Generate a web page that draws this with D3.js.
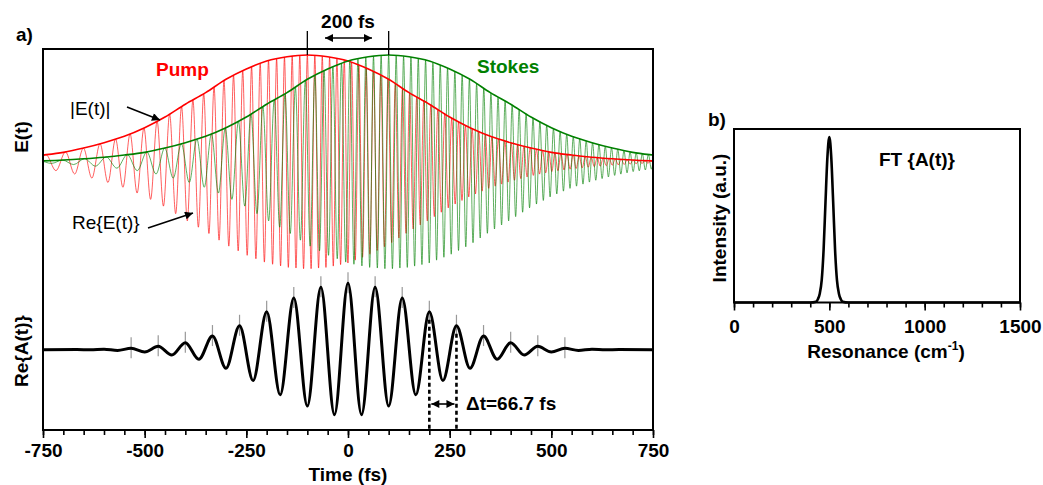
<!DOCTYPE html>
<html>
<head>
<meta charset="utf-8">
<script src="https://cdn.jsdelivr.net/npm/d3@7"></script>
<style>
body { margin: 0; background: #fff; }
text { font-family: "Liberation Sans", Arial, sans-serif; }
</style>
</head>
<body>
<div id="chart"></div>
<script>
// ---- data ----
// pulse envelope |E(t)|, one side, offsets from the pulse centre (fs); mirrored below
var envOffsetsHalf = [0, 50, 100, 150, 200, 250, 300, 350, 400, 450, 500, 550, 600, 650, 700, 750, 800, 850];
var envValuesHalf  = [1.0, 0.984, 0.944, 0.869, 0.773, 0.648, 0.54, 0.42, 0.32, 0.24, 0.18, 0.13, 0.09, 0.065, 0.045, 0.03, 0.018, 0.01];

var pulseNames   = ["Pump", "Stokes"];
var pulseCenters = [-100, 100];

// carrier period (fs) of the chirped pulses, offsets from the pulse centre
var periodOffsets = [-850, -650, -550, -450, -350, -250, -150, -50, 50, 150, 250, 350, 450, 600, 850];
var periodFs      = [56, 52, 43, 36, 31, 26, 22, 19, 18, 18, 17.5, 17, 16, 15, 14.5];

// beat signal Re{A(t)}: extrema (fs) and values
var beatTimes = [-750, -666.7, -633.3, -600, -566.7, -533.3, -500, -466.7, -433.3, -400, -366.7, -333.3, -300,
  -266.7, -233.3, -200, -166.7, -133.3, -100, -66.7, -33.3, 0, 33.3, 66.7, 100, 133.3, 166.7, 200, 233.3, 266.7,
  300, 333.3, 366.7, 400, 433.3, 466.7, 500, 533.3, 566.7, 600, 633.3, 666.7, 750];
var beatValues = [0, 0.002, -0.003, 0.006, -0.012, 0.021, -0.035, 0.05, -0.08, 0.105, -0.145, 0.205, -0.28,
  0.36, -0.465, 0.57, -0.68, 0.78, -0.85, 0.94, -0.98, 1.0, -0.98, 0.94, -0.85, 0.78, -0.68, 0.57, -0.465, 0.36,
  -0.28, 0.205, -0.145, 0.105, -0.08, 0.05, -0.035, 0.021, -0.012, 0.006, -0.003, 0.002, 0];

var deltaT = [200, 266.7];

// FT{A(t)} spectrum
var specWavenumbers = [0, 400, 430, 440, 450, 460, 470, 480, 490, 500, 510, 520, 530, 540, 550, 560, 570, 600, 1500];
var specValues      = [0, 0, 0.005, 0.02, 0.055, 0.135, 0.32, 0.61, 0.88, 1.0, 0.88, 0.61, 0.32, 0.135, 0.055, 0.02, 0.005, 0, 0];

var timeMajor = [-750, -500, -250, 0, 250, 500, 750];
var resMajor  = [0, 500, 1000, 1500];

// ---- layout ----
var W = 1043, H = 485;
var colors = {Pump: "#ff0000", Stokes: "#008000"};

var svg = d3.select("#chart").append("svg").attr("width", W).attr("height", H);

var defs = svg.append("defs");
defs.append("marker").attr("id", "arr")
  .attr("viewBox", "0 0 10 10").attr("refX", 10).attr("refY", 5)
  .attr("markerWidth", 9).attr("markerHeight", 8).attr("markerUnits", "userSpaceOnUse")
  .attr("orient", "auto-start-reverse")
  .append("path").attr("d", "M0,0 L10,5 L0,10 z").attr("fill", "#000");
defs.append("clipPath").attr("id", "clipA")
  .append("rect").attr("x", 43).attr("y", 49).attr("width", 610).attr("height", 381);

// left panel scales
var x = d3.scaleLinear().domain([-750, 750]).range([43, 653]);
var yE = d3.scaleLinear().domain([-1, 1]).range([269, 55]);
var yA = d3.scaleLinear().domain([-1, 1]).range([416, 283.3]);

// full envelope (mirror of the half profile)
var envOffsets = envOffsetsHalf.slice(1).map(function(d){ return -d; }).reverse().concat(envOffsetsHalf);
var envValues = envValuesHalf.slice(1).reverse().concat(envValuesHalf);
var envAt = d3.scaleLinear().domain(envOffsets).range(envValues).clamp(true);
var periodAt = d3.scaleLinear().domain(periodOffsets).range(periodFs).clamp(true);

// extrema of the carrier: step half a period each time
function carrierExtrema(c) {
  var pts = [{t: c, v: envAt(0)}];
  var t = c, s = 1;
  while (t < 780) { t += periodAt(t - c) / 2; s = -s; pts.push({t: t, v: s * envAt(t - c)}); }
  t = c; s = 1;
  while (t > -780) { t -= periodAt(t - c) / 2; s = -s; pts.unshift({t: t, v: s * envAt(t - c)}); }
  return pts;
}

var lineE = d3.line().x(function(d){ return x(d.t); }).y(function(d){ return yE(d.v); }).curve(d3.curveMonotoneX);
var lineA = d3.line().x(function(d){ return x(d.t); }).y(function(d){ return yA(d.v); }).curve(d3.curveMonotoneX);

var plotA = svg.append("g").attr("clip-path", "url(#clipA)");

// oscillations Re{E(t)}
pulseNames.forEach(function(name, i) {
  plotA.append("path").datum(carrierExtrema(pulseCenters[i]))
    .attr("d", lineE).attr("fill", "none")
    .attr("stroke", colors[name]).attr("stroke-width", 0.9).attr("stroke-opacity", 0.7);
});
// envelopes |E(t)|
pulseNames.forEach(function(name, i) {
  var pts = envOffsets.map(function(o, j){ return {t: pulseCenters[i] + o, v: envValues[j]}; });
  plotA.append("path").datum(pts)
    .attr("d", lineE).attr("fill", "none")
    .attr("stroke", colors[name]).attr("stroke-width", 1.6);
});

// beat signal
var beat = beatTimes.map(function(t, i){ return {t: t, v: beatValues[i]}; });
plotA.selectAll(".pk").data(beat.filter(function(d){ return d.v > 0.015 && Math.abs(d.t) < 600; }))
  .enter().append("line")
  .attr("x1", function(d){ return x(d.t); }).attr("x2", function(d){ return x(d.t); })
  .attr("y1", function(d){ return yA(d.v) - 11; }).attr("y2", function(d){ return yA(d.v) + 10; })
  .attr("stroke", "#999").attr("stroke-width", 1.2);
plotA.append("path").datum(beat).attr("d", lineA).attr("fill", "none")
  .attr("stroke", "#000").attr("stroke-width", 3);

// dotted lines for delta t
var beatAt = d3.scaleLinear().domain(beatTimes).range(beatValues);
deltaT.forEach(function(t) {
  svg.append("line").attr("x1", x(t)).attr("x2", x(t))
    .attr("y1", yA(beatAt(t)) + 8).attr("y2", 430)
    .attr("stroke", "#000").attr("stroke-width", 2.6).attr("stroke-dasharray", "4,3");
});
svg.append("line").attr("x1", x(deltaT[0]) + 2).attr("x2", x(deltaT[1]) - 2)
  .attr("y1", 404).attr("y2", 404).attr("stroke", "#000").attr("stroke-width", 1.6)
  .attr("marker-start", "url(#arr)").attr("marker-end", "url(#arr)");
svg.append("text").attr("x", 466).attr("y", 410).attr("font-size", 19).attr("font-weight", "bold")
  .text("\u0394t=66.7 fs");

// frame and axes, left
svg.append("rect").attr("x", 43).attr("y", 49).attr("width", 610).attr("height", 381)
  .attr("fill", "none").attr("stroke", "#000").attr("stroke-width", 2);

function styleAxis(g) {
  g.select(".domain").remove();
  g.selectAll("line").attr("stroke-width", 1.6);
  g.attr("font-size", 19).attr("font-family", "Liberation Sans, Arial, sans-serif").attr("font-weight", "bold");
}
var plainNum = function(d){ return String(d); };
svg.append("g").attr("transform", "translate(0,430)")
  .call(d3.axisBottom(x).tickValues(d3.range(-750, 751, 50)).tickSize(5).tickFormat(""))
  .call(styleAxis);
svg.append("g").attr("transform", "translate(0,430)")
  .call(d3.axisBottom(x).tickValues(timeMajor).tickSize(8).tickPadding(6).tickFormat(plainNum))
  .call(styleAxis);

// markers for the pulse centres
pulseCenters.forEach(function(c) {
  svg.append("line").attr("x1", x(c)).attr("x2", x(c)).attr("y1", 31).attr("y2", 55)
    .attr("stroke", "#000").attr("stroke-width", 1.3);
});
svg.append("line").attr("x1", 325).attr("x2", 372).attr("y1", 38).attr("y2", 38)
  .attr("stroke", "#000").attr("stroke-width", 1.6)
  .attr("marker-start", "url(#arr)").attr("marker-end", "url(#arr)");
svg.append("text").attr("x", 348).attr("y", 28).attr("text-anchor", "middle")
  .attr("font-size", 19).attr("font-weight", "bold").text("200 fs");

// labels, left
svg.append("text").attr("x", 16).attr("y", 41).attr("font-size", 19).attr("font-weight", "bold").text("a)");
svg.append("text").attr("x", 156).attr("y", 76).attr("font-size", 19).attr("font-weight", "bold")
  .attr("fill", colors.Pump).text("Pump");
svg.append("text").attr("x", 477).attr("y", 73).attr("font-size", 19).attr("font-weight", "bold")
  .attr("fill", colors.Stokes).text("Stokes");
svg.append("text").attr("x", 70).attr("y", 115).attr("font-size", 19).text("|E(t)|");
svg.append("text").attr("x", 72).attr("y", 229).attr("font-size", 19).text("Re{E(t)}");
svg.append("line").attr("x1", 127).attr("y1", 107).attr("x2", 160).attr("y2", 120)
  .attr("stroke", "#000").attr("stroke-width", 1.6).attr("marker-end", "url(#arr)");
svg.append("line").attr("x1", 148).attr("y1", 228).attr("x2", 193).attr("y2", 213)
  .attr("stroke", "#000").attr("stroke-width", 1.6).attr("marker-end", "url(#arr)");
svg.append("text").attr("transform", "translate(28,137) rotate(-90)").attr("text-anchor", "middle")
  .attr("font-size", 19).attr("font-weight", "bold").text("E(t)");
svg.append("text").attr("transform", "translate(28,351) rotate(-90)").attr("text-anchor", "middle")
  .attr("font-size", 19).attr("font-weight", "bold").text("Re{A(t)}");
svg.append("text").attr("x", 348).attr("y", 481).attr("text-anchor", "middle")
  .attr("font-size", 19).attr("font-weight", "bold").text("Time (fs)");

// ---- right panel ----
var xR = d3.scaleLinear().domain([0, 1500]).range([734, 1020]);
var yR = d3.scaleLinear().domain([0, 1]).range([302.5, 137]);

svg.append("path").datum(specWavenumbers.map(function(w, i){ return {w: w, v: specValues[i]}; }))
  .attr("d", d3.line().x(function(d){ return xR(d.w); }).y(function(d){ return yR(d.v); }).curve(d3.curveMonotoneX))
  .attr("fill", "none").attr("stroke", "#000").attr("stroke-width", 2.6);

svg.append("rect").attr("x", 734).attr("y", 129).attr("width", 286).attr("height", 173.5)
  .attr("fill", "none").attr("stroke", "#000").attr("stroke-width", 2);
svg.append("g").attr("transform", "translate(0,302.5)")
  .call(d3.axisBottom(xR).tickValues(d3.range(0, 1501, 100)).tickSize(5).tickFormat(""))
  .call(styleAxis);
svg.append("g").attr("transform", "translate(0,302.5)")
  .call(d3.axisBottom(xR).tickValues(resMajor).tickSize(8).tickPadding(9).tickFormat(plainNum))
  .call(styleAxis);

svg.append("text").attr("x", 708).attr("y", 126).attr("font-size", 19).attr("font-weight", "bold").text("b)");
svg.append("text").attr("x", 879).attr("y", 166).attr("font-size", 19).attr("font-weight", "bold").text("FT {A(t)}");
svg.append("text").attr("transform", "translate(726,218) rotate(-90)").attr("text-anchor", "middle")
  .attr("font-size", 19).attr("font-weight", "bold").text("Intensity (a.u.)");
var res = svg.append("text").attr("x", 886).attr("y", 358).attr("text-anchor", "middle")
  .attr("font-size", 19).attr("font-weight", "bold");
res.append("tspan").text("Resonance (cm");
res.append("tspan").attr("font-size", 12).attr("dy", -8).text("-1");
res.append("tspan").attr("dy", 8).text(")");
</script>
</body>
</html>
